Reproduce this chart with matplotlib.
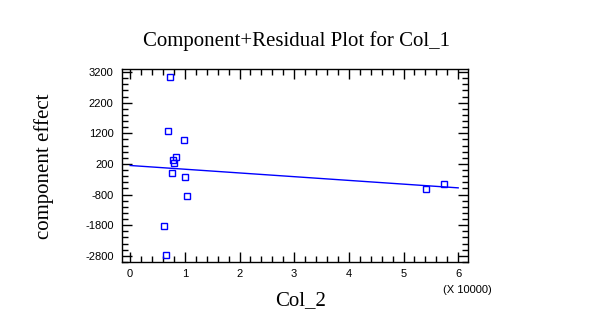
import matplotlib
matplotlib.use("Agg")
import matplotlib.pyplot as plt
from matplotlib.ticker import MultipleLocator

# Col_2 values (in units of 10000) and component+residual values
col2 = [0.726, 0.700, 0.982, 0.846, 0.792, 0.810, 0.762, 1.011, 1.037, 0.627, 0.658, 5.417, 5.735]
effect = [3027, 1276, 993, 419, 321, 223, -83, -233, -833, -1811, -2757, -625, -442]

# fitted component line endpoints
line_x = [0.0, 6.0]
line_y = [150, -580]

x_ticks = [0, 1, 2, 3, 4, 5, 6]
y_ticks = [-2800, -1800, -800, 200, 1200, 2200, 3200]

fig = plt.figure(figsize=(5.89, 3.30), dpi=100)
ax = fig.add_axes([0.2071, 0.2061, 0.5875, 0.5848])

ax.plot(line_x, line_y, color="#0000ff", lw=1.0)
ax.plot(col2, effect, linestyle="none", marker="s", markersize=4.5,
        markerfacecolor="none", markeredgecolor="#0000ff", markeredgewidth=1.0)

ax.set_xlim(-0.15, 6.18)
ax.set_ylim(-3000, 3300)
ax.set_xticks(x_ticks)
ax.set_yticks(y_ticks)
ax.xaxis.set_minor_locator(MultipleLocator(0.2))
ax.set_yticks([v for v in range(-3000, 3301, 200)], minor=True)

tick_font = {"family": "Liberation Sans", "size": 8}
ax.set_xticklabels([str(t) for t in x_ticks], **tick_font)
ax.set_yticklabels([str(t) for t in y_ticks], **tick_font)
ax.tick_params(which="both", direction="in", top=True, right=True, color="black")
ax.tick_params(which="major", length=7, width=1)
ax.tick_params(which="minor", length=4, width=1)
ax.tick_params(axis="y", which="major", pad=6)
ax.tick_params(axis="x", which="major", pad=5)

for s in ax.spines.values():
    s.set_linewidth(1.0)
    s.set_color("black")

fig.text(0.503, 0.875, "Component+Residual Plot for Col_1", ha="center", va="center",
         family="Liberation Serif", fontsize=15)
fig.text(0.074, 0.495, "component effect", ha="center", va="center", rotation=90,
         family="Liberation Serif", fontsize=15)
fig.text(0.511, 0.09, "Col_2", ha="center", va="center",
         family="Liberation Serif", fontsize=15)
fig.text(0.794, 0.121, "(X 10000)", ha="center", va="center",
         family="Liberation Sans", fontsize=8)

fig.savefig("out.png", dpi=100)
